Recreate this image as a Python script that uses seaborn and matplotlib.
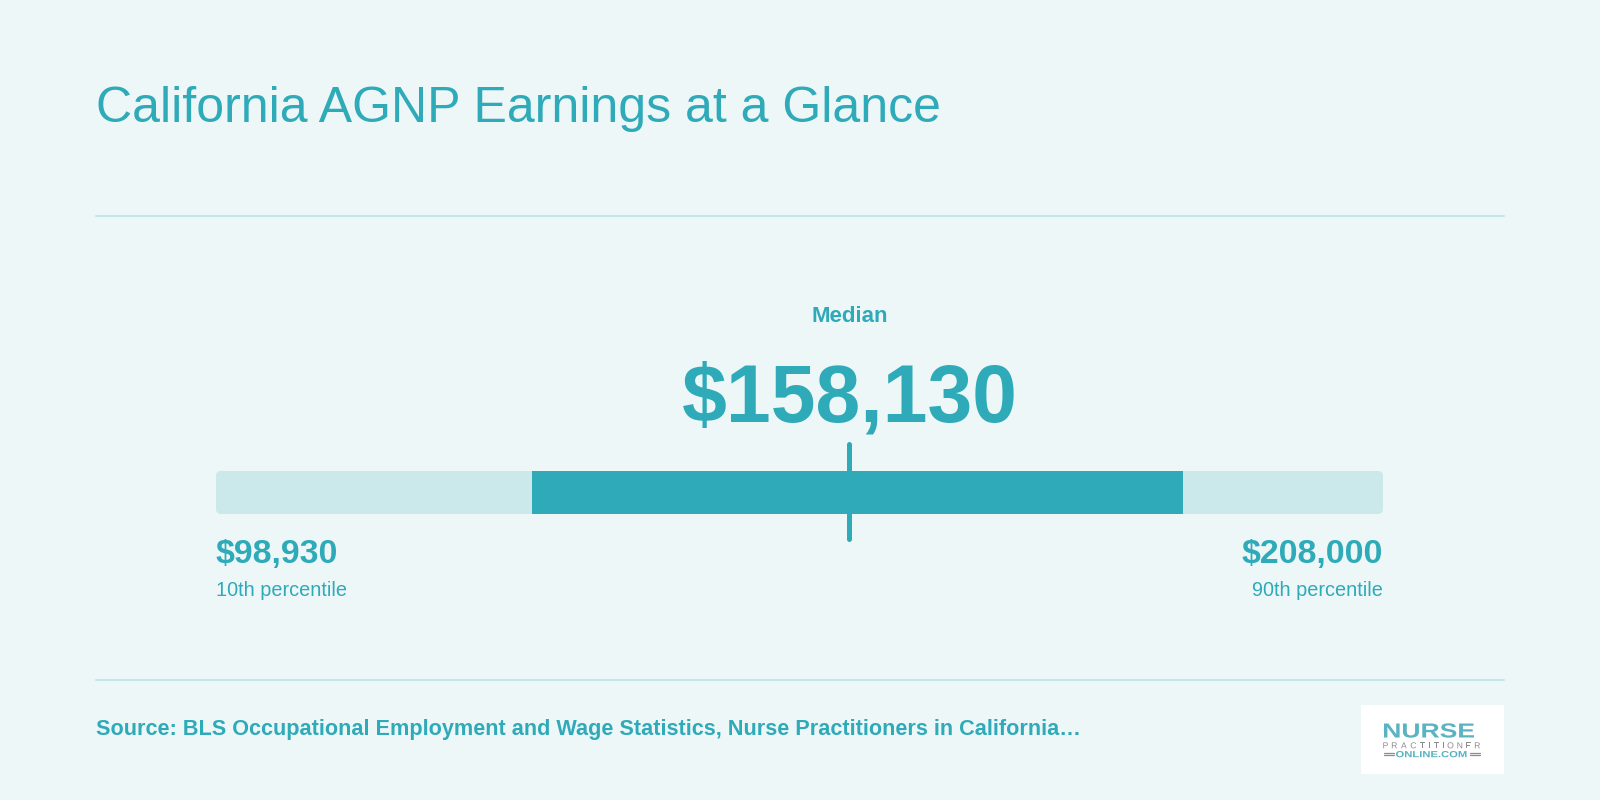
import matplotlib
matplotlib.use("Agg")
import matplotlib.pyplot as plt
import seaborn as sns
import pandas as pd
from matplotlib.patches import FancyBboxPatch, PathPatch
from matplotlib.textpath import TextPath
from matplotlib.font_manager import FontProperties
from matplotlib.transforms import blended_transform_factory, Affine2D, IdentityTransform

# ---- data ----
title = "California AGNP Earnings at a Glance"
percentile_labels = ["10th percentile", "25th percentile", "Median", "75th percentile", "90th percentile"]
percentile_values = [98930, 128500, 158130, 189300, 208000]
source_text = "Source: BLS Occupational Employment and Wage Statistics, Nurse Practitioners in California\u2026"

p10, q25, med, q75, p90 = percentile_values

BG = "#eef7f8"
TEAL = "#2eaab9"
LIGHT = "#cbe8eb"
RULE = "#c6e7ea"

sns.set_theme(style="white", rc={"figure.facecolor": BG, "axes.facecolor": BG})
plt.rcParams["font.family"] = ["Liberation Sans", "DejaVu Sans"]

W, H = 1600, 800
fig = plt.figure(figsize=(16, 8), dpi=100)

def fx(px):
    return px / W

def fy(py):
    return 1 - py / H

# bar axes: x spans p10..p90 in data units
ax_l, ax_r = 216, 1383
ax_top, ax_bot = 440, 545
ax = fig.add_axes([fx(ax_l), fy(ax_bot), (ax_r - ax_l) / W, (ax_bot - ax_top) / H])
ax.set_xlim(p10, p90)
ax.set_ylim(-1, 1)
ax.axis("off")

px_per_y = (ax_bot - ax_top) / 2.0
bar_h = 43 / px_per_y
x_per_px = (p90 - p10) / (ax_r - ax_l)
r_px = 5
bg = FancyBboxPatch((p10, -bar_h / 2), p90 - p10, bar_h,
                    boxstyle=f"round,pad=0,rounding_size={r_px * x_per_px}",
                    mutation_aspect=(1 / px_per_y) / x_per_px,
                    facecolor=LIGHT, edgecolor="none", zorder=1)
ax.add_patch(bg)

seg = pd.DataFrame({"start": [q25], "end": [q75]})
ax.barh(0, seg["end"] - seg["start"], left=seg["start"], height=bar_h,
        color=TEAL, edgecolor="none", zorder=2)

# median tick
ax.axvline(med, ymin=(ax_bot - 539) / (ax_bot - ax_top), ymax=(ax_bot - 444) / (ax_bot - ax_top),
           color=TEAL, linewidth=3.6, solid_capstyle="round", zorder=3)

trans = blended_transform_factory(ax.transData, fig.transFigure)

# title
fig.text(fx(96), fy(122), title, color=TEAL, fontsize=36, va="baseline", ha="left")

# separators
fig.add_artist(plt.Line2D([fx(96), fx(1504)], [fy(216), fy(216)], color=RULE, linewidth=1.6))
fig.add_artist(plt.Line2D([fx(96), fx(1504)], [fy(680), fy(680)], color=RULE, linewidth=1.6))

# median labels
ax.text(med, fy(322), "Median", transform=trans, color=TEAL, fontsize=16,
        fontweight="bold", ha="center", va="baseline")
ax.text(med, fy(421), f"${med:,}", transform=trans, color=TEAL, fontsize=58,
        fontweight="bold", ha="center", va="baseline")

# end labels
ax.text(p10, fy(563.5), f"${p10:,}", transform=trans, color=TEAL, fontsize=24.4,
        fontweight="bold", ha="left", va="baseline")
ax.text(p10, fy(595.5), percentile_labels[0], transform=trans, color=TEAL, fontsize=14.3,
        ha="left", va="baseline")
ax.text(p90, fy(563.5), f"${p90:,}", transform=trans, color=TEAL, fontsize=24.4,
        fontweight="bold", ha="right", va="baseline")
ax.text(p90, fy(595.5), percentile_labels[4], transform=trans, color=TEAL, fontsize=14.3,
        ha="right", va="baseline")

# source
fig.text(fx(96), fy(734.5), source_text, color=TEAL, fontsize=15.6, fontweight="bold",
         ha="left", va="baseline")

# logo
logo = FancyBboxPatch((fx(1361), fy(774)), fx(1504) - fx(1361), (774 - 705) / H,
                      boxstyle="square,pad=0", transform=fig.transFigure,
                      facecolor="white", edgecolor="none")
fig.add_artist(logo)
LOGO_TEAL = "#5ab3c1"
LOGO_GRAY = "#8c8c8c"


def fitted_text(s, x0, x1, ytop, ybase, color, weight="bold"):
    tp = TextPath((0, 0), s, size=100, prop=FontProperties(family="Liberation Sans", weight=weight))
    ext = tp.get_extents()
    sx = (x1 - x0) / ext.width
    sy = (ybase - ytop) / ext.height
    tr = (Affine2D().translate(-ext.x0, -ext.y0).scale(sx, sy)
          .translate(x0, H - ybase) + IdentityTransform())
    patch = PathPatch(tp, facecolor=color, edgecolor="none", transform=tr)
    fig.add_artist(patch)


def tracked_text(s, x0, x1, ytop, ybase, color, weight="normal"):
    prop = FontProperties(family="Liberation Sans", weight=weight)
    paths = [TextPath((0, 0), ch, size=100, prop=prop) for ch in s]
    exts = [p.get_extents() for p in paths]
    cap_h = max(e.y1 for e in exts)
    sc = (ybase - ytop) / cap_h
    widths = [e.width * sc for e in exts]
    gap = ((x1 - x0) - sum(widths)) / (len(s) - 1)
    x = x0
    for p, e, w in zip(paths, exts, widths):
        tr = (Affine2D().translate(-e.x0, 0).scale(sc, sc)
              .translate(x, H - ybase) + IdentityTransform())
        fig.add_artist(PathPatch(p, facecolor=color, edgecolor="none", transform=tr))
        x += w + gap


fitted_text("NURSE", 1384, 1474, 723.3, 737.7, LOGO_TEAL)
fitted_text("ONLINE.COM", 1396, 1466.5, 751, 757.3, LOGO_TEAL)
tracked_text("PRACTITIONER", 1383.3, 1480, 742.3, 748.3, LOGO_GRAY)

for (xa, xb) in [(1384, 1393.5), (1470, 1480)]:
    for yy in (752.7, 755.2):
        fig.add_artist(plt.Line2D([fx(xa), fx(xb)], [fy(yy), fy(yy)], color=LOGO_GRAY, linewidth=0.9))

fig.savefig("out.png", dpi=100, facecolor=BG)
